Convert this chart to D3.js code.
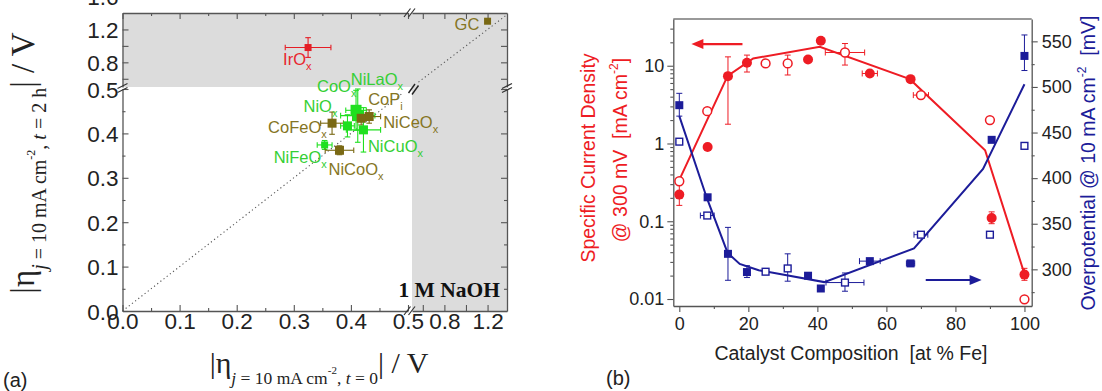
<!DOCTYPE html>
<html>
<head>
<meta charset="utf-8">
<script src="https://cdn.jsdelivr.net/npm/d3@7"></script>
<style>
  html, body { margin: 0; padding: 0; background: #fff; }
  svg { display: block; }
  text { white-space: pre; }
</style>
</head>
<body>
<svg id="chart" width="1102" height="391"></svg>
<script>
// ================= Panel (a): stability of OER catalysts in 1 M NaOH =================
const catalysts = ["IrOx", "GC", "CoOx", "NiLaOx", "CoPi", "NiCeOx", "NiO", "CoFeOx", "NiCuOx", "NiFeOx", "NiCoOx"];
const labelMain = ["IrO", "GC", "CoO", "NiLaO", "CoP", "NiCeO", "NiO", "CoFeO", "NiCuO", "NiFeO", "NiCoO"];
const labelSub  = ["x", "", "x", "x", "i", "x", "x", "x", "x", "x", "x"];
const family    = ["noble", "olive", "green", "green", "olive", "olive", "green", "olive", "green", "green", "olive"];
// overpotential at 10 mA cm-2, t = 0 and t = 2 h (V)
const eta0      = [0.325, 1.20, 0.409, 0.412, 0.432, 0.418, 0.394, 0.367, 0.422, 0.354, 0.380];
const eta0Err   = [0.040, 0, 0.018, 0.030, 0.020, 0.015, 0.012, 0.020, 0.030, 0.013, 0.025];
const eta2h     = [0.98, 1.30, 0.452, 0.440, 0.438, 0.434, 0.417, 0.423, 0.408, 0.374, 0.362];
const eta2hErr  = [0.12, 0, 0.045, 0.060, 0.015, 0.015, 0.025, 0.025, 0.050, 0.010, 0.010];
const ticksLow      = [0, 0.1, 0.2, 0.3, 0.4, 0.5];
const ticksLowMinor = [0.05, 0.15, 0.25, 0.35, 0.45];
const ticksHighX    = [0.6, 0.8, 1.0, 1.2];
const ticksHighY    = [0.6, 0.8, 1.0, 1.2, 1.6];
const labelledHigh  = [0.8, 1.2, 1.6];

// ================= Panel (b): Ni-Fe composition series =================
const feFilledJ  = [0, 8.2, 14.1, 19.6, 37.3, 41.0, 55.2, 67.0, 90.5, 100];
const jFilled    = [0.22, 0.90, 7.35, 10.9, 12.05, 20.9, 7.95, 6.72, 0.11, 0.0206];
const jFilledLo  = [0.16, null, 1.77, 8.3, null, null, null, null, 0.093, 0.0174];
const jFilledHi  = [0.31, null, 13.0, 13.7, null, null, null, null, 0.132, 0.0248];
const jFilledXE  = [0, 0, 0, 0, 0, 0, 2.2, 0, 0, 0];
const feOpenJ    = [0, 8.1, 25, 31.4, 48, 70, 90, 100];
const jOpen      = [0.327, 2.6, 10.7, 10.7, 14.8, 4.19, 2.0, 0.0099];
const jOpenLo    = [null, null, null, 7.6, 10.2, null, null, null];
const jOpenHi    = [null, null, null, 13.7, 19.3, null, null, null];
const jOpenXE    = [0, 0, 0, 0, 5.7, 2.2, 0, 0];
const jTrendFe   = [0, 14, 21.4, 40.7, 66.8, 88.6, 100];
const jTrend     = [0.34, 7.4, 12.4, 17.5, 6.72, 0.82, 0.021];

const feFilledEta = [0, 8.2, 14.1, 19.6, 37.3, 41.0, 55.2, 67.0, 90.5, 100];
const etaFilled   = [480, 379, 317, 297, 293, 279, 309, 306.5, 442, 534];
const etaFilledLo = [468, null, 288, 291, null, null, null, null, null, 518];
const etaFilledHi = [493, null, 346, 304, null, null, null, null, null, 557];
const etaFilledXE = [0, 0, 0, 0, 0, 0, 3, 1.2, 0, 0];
const feOpenEta   = [0, 8.1, 25, 31.4, 48, 70, 90, 100];
const etaOpen     = [440, 359, 297.4, 301, 285.5, 338, 338, 435.4];
const etaOpenLo   = [null, null, null, 287, 276, null, null, null];
const etaOpenHi   = [null, null, null, 317, 296, null, null, null];
const etaOpenXE   = [0, 2, 0, 0, 5.5, 2, 0, 0];
const etaTrendFe  = [0, 8, 14, 17.5, 23, 42, 68, 88, 100];
const etaTrend    = [468, 378, 318, 306, 299, 286, 323, 410, 503];

const ticksJ      = [0.01, 0.1, 1, 10];
const ticksEta    = [300, 350, 400, 450, 500, 550];
const ticksEtaMin = [275, 325, 375, 425, 475, 525];
const ticksFe     = [0, 20, 40, 60, 80, 100];
const ticksFeMin  = [10, 30, 50, 70, 90];

// ---------------------------------------------------------------------
const svg = d3.select("#chart");
const SANS = "'Liberation Sans', Arial, Helvetica, sans-serif";
const SERIF = "'Liberation Serif', 'Times New Roman', serif";
const AXIS = "#555";

// ---------- panel (a) layout ----------
const A = { left: 122.5, breakX0: 408, breakX1: 412, right: 507, top: 13, breakY1: 87, breakY0: 89, bottom: 311 };
const xLo = d3.scaleLinear().domain([0, 0.5]).range([A.left, A.breakX0]);
const xHi = d3.scaleLinear().domain([0.5, 1.38]).range([A.breakX1, A.right]);
const yLo = d3.scaleLinear().domain([0, 0.5]).range([A.bottom, A.breakY0]);
const yHi = d3.scaleLinear().domain([0.5, 1.4]).range([A.breakY1, A.top]);
const fx = v => v <= 0.5 ? xLo(v) : xHi(v);
const fy = v => v <= 0.5 ? yLo(v) : yHi(v);

const colorA = { noble: "#e51d25", olive: "#7a6914", green: "#1fe01f" };
const labelColorA = { noble: "#e8262d", olive: "#857524", green: "#35cf35" };
const markerSizeA = { IrOx: 7, GC: 7, CoOx: 11, NiLaOx: 11, NiFeOx: 7 };
// label anchor relative to the marker centre (px)
const labelOffsetA = {
  IrOx: [-25, 17.5], GC: [-33, 9], CoOx: [-39, -18], NiLaOx: [-7, -30.5], CoPi: [-1, -11.5],
  NiCeOx: [22, 10], NiO: [-44, -14], CoFeOx: [-64, 10], NiCuOx: [4.5, 22], NiFeOx: [-51, 18], NiCoOx: [-11, 25]
};

const gA = svg.append("g");

// shaded regions beyond the axis breaks
gA.append("rect").attr("x", A.left).attr("y", yHi(1.4)).attr("width", A.right - A.left).attr("height", yHi(0.5) - yHi(1.4))
  .attr("fill", "#dcdcdc");
gA.append("rect").attr("x", xHi(0.5)).attr("y", yHi(0.5)).attr("width", A.right - xHi(0.5)).attr("height", A.bottom - yHi(0.5))
  .attr("fill", "#dcdcdc");

// parity line (dotted)
gA.append("line").attr("x1", xLo(0)).attr("y1", yLo(0)).attr("x2", xLo(0.49)).attr("y2", yLo(0.49))
  .attr("stroke", "#555").attr("stroke-width", 1.1).attr("stroke-dasharray", "1.2,2.8");
gA.append("line").attr("x1", xHi(0.56)).attr("y1", yHi(0.56)).attr("x2", xHi(1.38)).attr("y2", yHi(1.38))
  .attr("stroke", "#555").attr("stroke-width", 1.1).attr("stroke-dasharray", "1.2,2.8");
// break mark on the parity line
const bx = (xLo(0.5) + xHi(0.5)) / 2 + 3, by = (yLo(0.5) + yHi(0.5)) / 2;
[[-4.5, 0], [-1, 1.5]].forEach(([ox, oy]) => {
  gA.append("line").attr("x1", bx + ox).attr("y1", by + 5 + oy).attr("x2", bx + ox + 6.5).attr("y2", by - 4 + oy)
    .attr("stroke", "#222").attr("stroke-width", 1.4);
});

// axes
function styleAxis(g, fontSize) {
  g.selectAll(".domain").attr("stroke", AXIS).attr("stroke-width", 1.3);
  g.selectAll(".tick line").attr("stroke", AXIS).attr("stroke-width", 1.1);
  g.selectAll(".tick text").attr("fill", "#222").attr("font-size", fontSize).attr("font-family", SANS);
  g.attr("font-size", null).attr("font-family", null);
}
const fmt1 = d3.format(".1f");
const fmtHigh = d => labelledHigh.includes(d) ? fmt1(d) : "";
const FA = 22.5;

// bottom
let g;
g = gA.append("g").attr("transform", `translate(0,${A.bottom})`)
  .call(d3.axisBottom(xLo).tickValues(ticksLow).tickSize(-6).tickSizeOuter(0).tickPadding(2).tickFormat(fmt1));
styleAxis(g, FA);
g = gA.append("g").attr("transform", `translate(0,${A.bottom})`)
  .call(d3.axisBottom(xLo).tickValues(ticksLowMinor).tickSize(-3).tickFormat(""));
g.select(".domain").remove(); styleAxis(g, FA);
g = gA.append("g").attr("transform", `translate(0,${A.bottom})`)
  .call(d3.axisBottom(xHi).tickValues(ticksHighX).tickSize(-6).tickSizeOuter(0).tickPadding(2).tickFormat(fmtHigh));
styleAxis(g, FA);
// top
g = gA.append("g").attr("transform", `translate(0,${A.top})`)
  .call(d3.axisTop(xLo).tickValues(ticksLow).tickSize(-6).tickSizeOuter(0).tickFormat(""));
styleAxis(g, FA);
g = gA.append("g").attr("transform", `translate(0,${A.top})`)
  .call(d3.axisTop(xLo).tickValues(ticksLowMinor).tickSize(-3).tickFormat(""));
g.select(".domain").remove(); styleAxis(g, FA);
g = gA.append("g").attr("transform", `translate(0,${A.top})`)
  .call(d3.axisTop(xHi).tickValues(ticksHighX).tickSize(-6).tickSizeOuter(0).tickFormat(""));
styleAxis(g, FA);
// left
g = gA.append("g").attr("transform", `translate(${A.left},0)`)
  .call(d3.axisLeft(yLo).tickValues(ticksLow).tickSize(-6).tickSizeOuter(0).tickPadding(4).tickFormat(fmt1));
styleAxis(g, FA);
g.selectAll(".tick text").attr("dy", "0.36em");
g = gA.append("g").attr("transform", `translate(${A.left},0)`)
  .call(d3.axisLeft(yLo).tickValues(ticksLowMinor).tickSize(-3).tickFormat(""));
g.select(".domain").remove(); styleAxis(g, FA);
g = gA.append("g").attr("transform", `translate(${A.left},0)`)
  .call(d3.axisLeft(yHi).tickValues(ticksHighY).tickSize(-6).tickSizeOuter(0).tickPadding(4).tickFormat(fmtHigh));
styleAxis(g, FA);
g.selectAll(".tick text").attr("dy", "0.36em");
// right
g = gA.append("g").attr("transform", `translate(${A.right},0)`)
  .call(d3.axisRight(yLo).tickValues(ticksLow).tickSize(-6).tickSizeOuter(0).tickFormat(""));
styleAxis(g, FA);
g = gA.append("g").attr("transform", `translate(${A.right},0)`)
  .call(d3.axisRight(yLo).tickValues(ticksLowMinor).tickSize(-3).tickFormat(""));
g.select(".domain").remove(); styleAxis(g, FA);
g = gA.append("g").attr("transform", `translate(${A.right},0)`)
  .call(d3.axisRight(yHi).tickValues(ticksHighY.filter(v => v <= 1.4)).tickSize(-6).tickSizeOuter(0).tickFormat(""));
styleAxis(g, FA);

// axis break marks
function hBreak(x, y) { // on a horizontal axis
  [-2.5, 2].forEach(o => gA.append("line").attr("x1", x + o - 3.5).attr("y1", y + 4).attr("x2", x + o + 3).attr("y2", y - 4.5)
    .attr("stroke", "#333").attr("stroke-width", 1.2));
}
function vBreak(x, y) { // on a vertical axis
  [-2, 2].forEach(o => gA.append("line").attr("x1", x - 5).attr("y1", y + o + 2.5).attr("x2", x + 5).attr("y2", y + o - 2.5)
    .attr("stroke", "#333").attr("stroke-width", 1.2));
}
const midX = (xLo(0.5) + xHi(0.5)) / 2, midY = (yLo(0.5) + yHi(0.5)) / 2;
hBreak(midX, A.bottom); hBreak(midX, A.top);
vBreak(A.left, midY); vBreak(A.right, midY);

// error bars + markers
const dataA = catalysts.map((name, i) => ({
  name, main: labelMain[i], sub: labelSub[i], fam: family[i],
  x: eta0[i], xe: eta0Err[i], y: eta2h[i], ye: eta2hErr[i]
}));
const errA = gA.append("g");
dataA.forEach(d => {
  const c = colorA[d.fam], cx = fx(d.x), cy = fy(d.y), cap = 2.8;
  if (d.xe > 0) {
    const x0 = fx(d.x - d.xe), x1 = fx(d.x + d.xe);
    errA.append("line").attr("x1", x0).attr("x2", x1).attr("y1", cy).attr("y2", cy).attr("stroke", c).attr("stroke-width", 1.1);
    [x0, x1].forEach(xx => errA.append("line").attr("x1", xx).attr("x2", xx).attr("y1", cy - cap).attr("y2", cy + cap).attr("stroke", c).attr("stroke-width", 1.1));
  }
  if (d.ye > 0) {
    const y0 = fy(d.y - d.ye), y1 = fy(d.y + d.ye);
    errA.append("line").attr("x1", cx).attr("x2", cx).attr("y1", y0).attr("y2", y1).attr("stroke", c).attr("stroke-width", 1.1);
    [y0, y1].forEach(yy => errA.append("line").attr("x1", cx - cap).attr("x2", cx + cap).attr("y1", yy).attr("y2", yy).attr("stroke", c).attr("stroke-width", 1.1));
  }
});
gA.append("g").selectAll("rect").data(dataA).join("rect")
  .attr("x", d => fx(d.x) - (markerSizeA[d.name] || 9) / 2)
  .attr("y", d => fy(d.y) - (markerSizeA[d.name] || 9) / 2)
  .attr("width", d => markerSizeA[d.name] || 9)
  .attr("height", d => markerSizeA[d.name] || 9)
  .attr("fill", d => colorA[d.fam]);

// catalyst labels
const lab = gA.append("g").attr("font-family", SANS);
dataA.forEach(d => {
  const [dx, dy] = labelOffsetA[d.name];
  const t = lab.append("text").attr("x", fx(d.x) + dx).attr("y", fy(d.y) + dy)
    .attr("fill", labelColorA[d.fam]).attr("font-size", 16.5);
  t.append("tspan").text(d.main);
  if (d.sub) t.append("tspan").attr("font-size", 11).attr("dy", 5).text(d.sub);
});

// electrolyte note
gA.append("text").attr("x", A.right - 7).attr("y", 297).attr("text-anchor", "end")
  .attr("font-family", SERIF).attr("font-weight", "bold").attr("font-size", 21.5).attr("fill", "#111")
  .text("1 M NaOH");

// axis titles of panel (a)
function etaTitle(parent, transform, tail, s) {
  const t = parent.append("text").attr("transform", transform).attr("text-anchor", "middle")
    .attr("font-family", SERIF).attr("fill", "#222");
  t.append("tspan").attr("font-size", s.big).text("|η");
  t.append("tspan").attr("font-size", s.sub).attr("font-style", "italic").attr("dy", s.shift).text("j");
  t.append("tspan").attr("font-size", s.sub).text(" = 10 mA cm");
  t.append("tspan").attr("font-size", s.sup).attr("dy", -s.sub * 0.55).text("-2");
  t.append("tspan").attr("font-size", s.sub).attr("dy", s.sub * 0.55).text(", ");
  t.append("tspan").attr("font-size", s.sub).attr("font-style", "italic").text("t");
  t.append("tspan").attr("font-size", s.sub).text(tail);
  t.append("tspan").attr("font-size", s.big).attr("dy", -s.shift).text("| / V");
}
etaTitle(gA, "translate(319,373)", " = 0", { big: 30, sub: 17.5, sup: 11, shift: 11 });
etaTitle(gA, "translate(34,163) rotate(-90)", " = 2 h", { big: 33, sub: 20, sup: 12, shift: 12 });

svg.append("text").attr("x", 3).attr("y", 387).attr("font-family", SANS).attr("font-size", 20).attr("fill", "#222").text("(a)");

// ================= panel (b) drawing =================
const B = { left: 673.3, right: 1031.7, top: 19, bottom: 306 };
const xB = d3.scaleLinear().domain([-1.74, 102.1]).range([B.left, B.right]);
const yJ = d3.scaleLog().domain([0.00813, 39.9]).range([B.bottom, B.top]);
const yEta = d3.scaleLinear().domain([259.8, 574.5]).range([B.bottom, B.top]);
const RED = "#ee1c24", BLUE = "#1c1c99";
const gB = svg.append("g");

// frame top line
gB.append("line").attr("x1", B.left).attr("x2", B.right).attr("y1", B.top).attr("y2", B.top)
  .attr("stroke", "#777").attr("stroke-width", 1.3);

// axes
g = gB.append("g").attr("transform", `translate(0,${B.bottom})`)
  .call(d3.axisBottom(xB).tickValues(ticksFe).tickSize(6).tickSizeOuter(0).tickPadding(5).tickFormat(d3.format("d")));
styleAxis(g, 18);
g = gB.append("g").attr("transform", `translate(0,${B.bottom})`)
  .call(d3.axisBottom(xB).tickValues(ticksFeMin).tickSize(3).tickFormat(""));
g.select(".domain").remove(); styleAxis(g, 18);

const minorJ = [];
[0.01, 0.1, 1, 10].forEach(dec => { for (let k = 2; k <= 9; k++) { const v = dec * k; if (v < 39.9) minorJ.push(v); } });
g = gB.append("g").attr("transform", `translate(${B.left},0)`)
  .call(d3.axisLeft(yJ).tickValues(ticksJ).tickSize(6).tickSizeOuter(0).tickPadding(3).tickFormat(d => String(d)));
styleAxis(g, 18);
g = gB.append("g").attr("transform", `translate(${B.left},0)`)
  .call(d3.axisLeft(yJ).tickValues(minorJ).tickSize(3).tickFormat(""));
g.select(".domain").remove(); styleAxis(g, 18);

g = gB.append("g").attr("transform", `translate(${B.right},0)`)
  .call(d3.axisRight(yEta).tickValues(ticksEta).tickSize(6).tickSizeOuter(0).tickPadding(4).tickFormat(d3.format("d")));
styleAxis(g, 18);
g = gB.append("g").attr("transform", `translate(${B.right},0)`)
  .call(d3.axisRight(yEta).tickValues(ticksEtaMin).tickSize(3).tickFormat(""));
g.select(".domain").remove(); styleAxis(g, 18);

// trend lines
gB.append("path").datum(jTrendFe.map((f, i) => [f, jTrend[i]]))
  .attr("d", d3.line().x(d => xB(d[0])).y(d => yJ(d[1])))
  .attr("fill", "none").attr("stroke", RED).attr("stroke-width", 2);
gB.append("path").datum(etaTrendFe.map((f, i) => [f, etaTrend[i]]))
  .attr("d", d3.line().x(d => xB(d[0])).y(d => yEta(d[1])))
  .attr("fill", "none").attr("stroke", BLUE).attr("stroke-width", 2);

// error bars helper
function errorBars(parent, xs, ys, lo, hi, xe, yScale, color) {
  const cap = 3;
  xs.forEach((f, i) => {
    const cx = xB(f), cy = yScale(ys[i]);
    if (lo[i] != null) {
      const y0 = yScale(lo[i]), y1 = yScale(hi[i]);
      parent.append("line").attr("x1", cx).attr("x2", cx).attr("y1", y0).attr("y2", y1).attr("stroke", color).attr("stroke-width", 1);
      [y0, y1].forEach(yy => parent.append("line").attr("x1", cx - cap).attr("x2", cx + cap).attr("y1", yy).attr("y2", yy).attr("stroke", color).attr("stroke-width", 1));
    }
    if (xe[i] > 0) {
      const x0 = xB(f - xe[i]), x1 = xB(f + xe[i]);
      parent.append("line").attr("x1", x0).attr("x2", x1).attr("y1", cy).attr("y2", cy).attr("stroke", color).attr("stroke-width", 1);
      [x0, x1].forEach(xx => parent.append("line").attr("x1", xx).attr("x2", xx).attr("y1", cy - cap).attr("y2", cy + cap).attr("stroke", color).attr("stroke-width", 1));
    }
  });
}
const eb = gB.append("g");
errorBars(eb, feFilledJ, jFilled, jFilledLo, jFilledHi, jFilledXE, yJ, RED);
errorBars(eb, feOpenJ, jOpen, jOpenLo, jOpenHi, jOpenXE, yJ, RED);
errorBars(eb, feFilledEta, etaFilled, etaFilledLo, etaFilledHi, etaFilledXE, yEta, BLUE);
errorBars(eb, feOpenEta, etaOpen, etaOpenLo, etaOpenHi, etaOpenXE, yEta, BLUE);

// markers
const R = 5, S = 8;
gB.append("g").selectAll("circle").data(feFilledJ.map((f, i) => [f, jFilled[i]])).join("circle")
  .attr("cx", d => xB(d[0])).attr("cy", d => yJ(d[1])).attr("r", R).attr("fill", RED);
gB.append("g").selectAll("circle").data(feOpenJ.map((f, i) => [f, jOpen[i]])).join("circle")
  .attr("cx", d => xB(d[0])).attr("cy", d => yJ(d[1])).attr("r", R - 0.6)
  .attr("fill", "#fff").attr("stroke", RED).attr("stroke-width", 1.5);
gB.append("g").selectAll("rect").data(feFilledEta.map((f, i) => [f, etaFilled[i]])).join("rect")
  .attr("x", d => xB(d[0]) - S / 2).attr("y", d => yEta(d[1]) - S / 2).attr("width", S).attr("height", S).attr("fill", BLUE);
gB.append("g").selectAll("rect").data(feOpenEta.map((f, i) => [f, etaOpen[i]])).join("rect")
  .attr("x", d => xB(d[0]) - S / 2 + 0.6).attr("y", d => yEta(d[1]) - S / 2 + 0.6).attr("width", S - 1.2).attr("height", S - 1.2)
  .attr("fill", "#fff").attr("stroke", BLUE).attr("stroke-width", 1.4);

// axis-assignment arrows
function arrow(x0, x1, y, color) {
  const dir = Math.sign(x1 - x0), head = 12, hw = 5;
  gB.append("line").attr("x1", x0).attr("x2", x1 - dir * head + dir).attr("y1", y).attr("y2", y)
    .attr("stroke", color).attr("stroke-width", 2.2);
  gB.append("path").attr("d", `M${x1},${y} L${x1 - dir * head},${y - hw} L${x1 - dir * head},${y + hw} Z`).attr("fill", color);
}
arrow(xB(18.3), xB(3.5), yJ(19), RED);
arrow(xB(71.4), xB(87.6), yEta(288.3), BLUE);

// titles of panel (b)
gB.append("text").attr("x", 851).attr("y", 360).attr("text-anchor", "middle").attr("font-family", SANS)
  .attr("font-size", 19.5).attr("fill", "#222").text("Catalyst Composition  [at % Fe]");
gB.append("text").attr("transform", "translate(595,158) rotate(-90)").attr("text-anchor", "middle")
  .attr("font-family", SANS).attr("font-size", 19.5).attr("fill", RED).text("Specific Current Density");
const t2 = gB.append("text").attr("transform", "translate(627,150) rotate(-90)").attr("text-anchor", "middle")
  .attr("font-family", SANS).attr("font-size", 19.5).attr("fill", RED);
t2.append("tspan").text("@ 300 mV  [mA cm");
t2.append("tspan").attr("font-size", 12).attr("dy", -9).text("-2");
t2.append("tspan").attr("dy", 9).text("]");
const t3 = gB.append("text").attr("transform", "translate(1095,163) rotate(-90)").attr("text-anchor", "middle")
  .attr("font-family", SANS).attr("font-size", 19.5).attr("fill", BLUE);
t3.append("tspan").text("Overpotential @ 10 mA cm");
t3.append("tspan").attr("font-size", 12).attr("dy", -9).text("-2");
t3.append("tspan").attr("dy", 9).text("  [mV]");

svg.append("text").attr("x", 606).attr("y", 385).attr("font-family", SANS).attr("font-size", 20).attr("fill", "#222").text("(b)");
</script>
</body>
</html>
